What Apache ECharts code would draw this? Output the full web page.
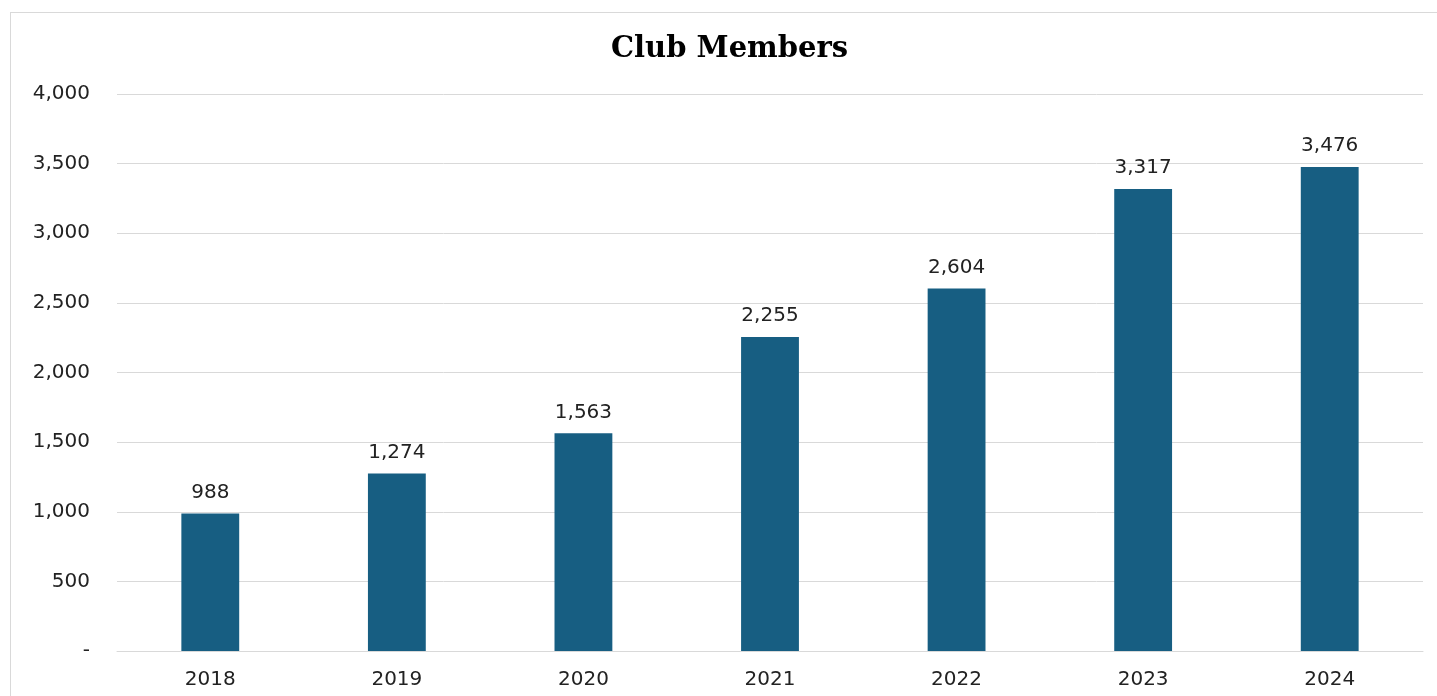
<!DOCTYPE html>
<html>
<head>
<meta charset="utf-8">
<script src="https://cdn.jsdelivr.net/npm/echarts@6/dist/echarts.min.js"></script>
<style>
  html, body { margin: 0; padding: 0; background: #fff; overflow: hidden; }
  .frame {
    position: absolute;
    left: 10px;
    top: 12px;
    width: 1440px;
    height: 700px;
    border: 1px solid #d9d9d9;
  }
  #chart { position: absolute; left: 0; top: 0; width: 1437px; height: 696px; }
</style>
</head>
<body>
<div class="frame"></div>
<div id="chart"></div>
<script>
const years = ['2018', '2019', '2020', '2021', '2022', '2023', '2024']
const members = [988, 1274, 1563, 2255, 2604, 3317, 3476]

const fmt = v => (v === 0 ? '-' : v.toLocaleString('en-US'))

const chart = echarts.init(document.getElementById('chart'), null, { renderer: 'canvas' })

chart.setOption({
  animation: false,
  title: {
    text: 'Club Members',
    left: 606,
    top: 30,
    textStyle: {
      fontFamily: 'DejaVu Serif',
      fontWeight: 'bold',
      fontSize: 29,
      color: '#000'
    }
  },
  grid: {
    left: 117,
    right: 14,
    top: 94,
    bottom: 45,
    containLabel: false
  },
  xAxis: {
    type: 'category',
    data: years,
    axisLine: { lineStyle: { color: '#d9d9d9', width: 1 } },
    axisTick: { show: false },
    axisLabel: {
      color: '#222',
      fontFamily: 'DejaVu Sans',
      fontSize: 20,
      margin: 19
    }
  },
  yAxis: {
    type: 'value',
    min: 0,
    max: 4000,
    interval: 500,
    axisLine: { show: false },
    axisTick: { show: false },
    splitLine: { lineStyle: { color: '#d9d9d9', width: 1 } },
    axisLabel: {
      color: '#222',
      fontFamily: 'DejaVu Sans',
      fontSize: 20,
      margin: 27,
      formatter: fmt
    }
  },
  series: [{
    type: 'bar',
    data: members,
    barWidth: '31%',
    itemStyle: { color: '#175e82' },
    label: {
      show: true,
      position: 'top',
      distance: 11,
      color: '#222',
      fontFamily: 'DejaVu Sans',
      fontSize: 20,
      formatter: p => fmt(p.value)
    }
  }]
})

window.addEventListener('resize', () => chart.resize())
</script>
</body>
</html>
